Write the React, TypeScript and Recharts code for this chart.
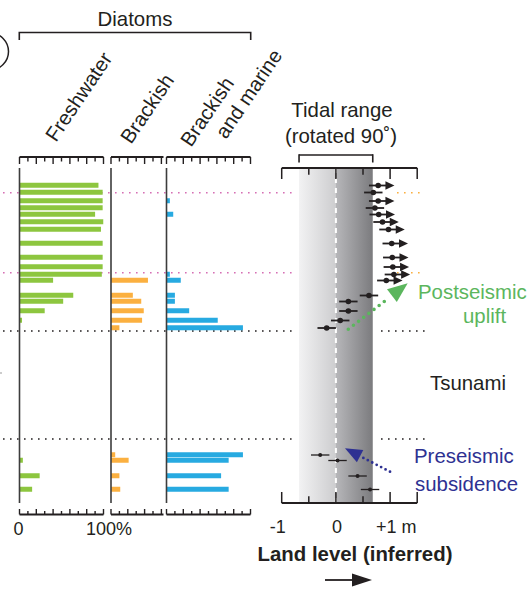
import React from 'react';
import {
  BarChart,
  Bar,
  ComposedChart,
  Scatter,
  ErrorBar,
  XAxis,
  YAxis,
  ReferenceLine,
  ReferenceArea,
} from 'recharts';

const W = 532;
const H = 589;
const FONT = '"Liberation Sans", Arial, Helvetica, sans-serif';
const FS = 20.4;
const INK = '#231f20';
const GREEN = '#8dc63f';
const ORANGE = '#fbb040';
const BLUE = '#27aae1';
const PINK = '#d66fb4';
const POST = '#5bb65d';
const PRE = '#2e3192';

// sample depth down the section (arbitrary units, top of core = 0)
const depths = [17.5, 24.5, 33, 40, 46.5, 54, 61.5, 75.5, 89.5, 99, 106.5, 112.5, 127.5, 133.5, 143, 152.5, 160, 287, 292.5, 308, 321.5];
// diatom assemblages, % of count
const freshwater = [94, 99, 99, 99, 90, 100, 97, 99, 99, 99, 98, 40, 64, 52, 30, 3, 0, 0, 4, 24, 15];
const brackish = [0, 0, 0, 0, 0, 0, 0, 0, 0, 0, 0, 44, 26, 36, 39, 37, 10, 5, 21, 10, 11];
const marine = [0, 0, 4, 0, 8, 0, 0, 0, 0, 0, 4, 17, 10, 10, 27, 61, 91, 91, 74, 65, 74];
// inferred land level (m) relative to mid tide
const landLevel = [0.78, 0.69, 0.78, 0.72, 0.79, 0.86, 0.97, 1.03, 1.04, 1.05, 1.07, 0.93, 0.61, 0.23, 0.23, 0.08, -0.17, -0.29, 0.03, 0.4, 0.63];
const minimumOnly = [true, false, true, false, true, true, true, true, true, true, true, true, false, false, false, false, false, false, false, false, false];
const landError = 0.17;
const tidalRange = [-0.68, 0.68];

const horizonDepths = [24.7, 104.7, 163, 271];
const horizonLeftColors = [PINK, PINK, INK, INK];
const horizonRightColors = [ORANGE, ORANGE, INK, INK];

const pctTicks = [0, 10, 20, 30, 40, 50, 60, 70, 80, 90, 100];
const brackishTicks = [0, 10, 20, 30, 40, 50, 60];
const landTicks = [-1, -0.5, 0, 0.5, 1, 1.5];

const samples = depths.map((depth, i) => ({
  depth,
  freshwater: freshwater[i],
  brackish: brackish[i],
  marine: marine[i],
}));

const landRows = depths.map((depth, i) => ({
  depth,
  level: landLevel[i],
  err: [landError, minimumOnly[i] ? 0.2 : landError],
  tip: landLevel[i] + 0.3,
  minimum: minimumOnly[i],
}));
const postRows = landRows.filter((r) => r.depth < 200);
const preRows = landRows.filter((r) => r.depth >= 200);
const arrowRows = landRows.filter((r) => r.minimum);
const horizonRows = horizonDepths.map((depth) => ({ depth, x: 0 }));

const layer: React.CSSProperties = { position: 'absolute', left: 0, top: 0 };

const PctTick = (props: any) => {
  const { x, y, payload, side, labels } = props;
  const v = payload.value;
  const long = v % 20 === 0;
  const top = side === 'top';
  const len = top ? (long ? 7 : 4.5) : long ? 5.5 : 3.5;
  return (
    <g>
      <line x1={x} x2={x} y1={y} y2={y + (top ? len : -len)} stroke={INK} strokeWidth={1.4} />
      {labels && v === 0 && (
        <text x={x - 1} y={y + 20} textAnchor="middle" fontSize={18} fill={INK} fontFamily={FONT}>
          0
        </text>
      )}
      {labels && v === 100 && (
        <text x={x + 5.5} y={y + 20} textAnchor="middle" fontSize={18} fill={INK} fontFamily={FONT}>
          100%
        </text>
      )}
    </g>
  );
};

const LandTick = (props: any) => {
  const { x, y, payload, side } = props;
  const v = payload.value;
  const long = v !== -0.5 && v !== 0.5;
  const top = side === 'top';
  const len = long ? 11 : 6.7;
  let label = null;
  if (!top) {
    const common = { y: y + 30, fontSize: 18, fill: INK, fontFamily: FONT };
    if (v === -1) label = <text x={x + 4} textAnchor="end" {...common}>-1</text>;
    if (v === 0) label = <text x={x + 1} textAnchor="middle" {...common}>0</text>;
    if (v === 1) label = <text x={x - 14} textAnchor="start" {...common}>+1 m</text>;
  }
  return (
    <g>
      <line x1={x} x2={x} y1={y} y2={y + (top ? len : -len)} stroke={INK} strokeWidth={1.5} />
      {label}
    </g>
  );
};

const axisCommon = {
  type: 'number' as const,
  allowDataOverflow: true,
  interval: 0,
  tickSize: 0,
  tickMargin: 0,
  tickLine: false,
  axisLine: { stroke: INK, strokeWidth: 1.8 },
};

const DiatomPanel = ({ dataKey, color, left, width, max, ticks, labels }: any) => (
  <div style={layer}>
    <BarChart
      width={W}
      height={H}
      layout="vertical"
      data={samples}
      margin={{ top: 147, bottom: 44.5, left, right: W - left - width }}
    >
      <XAxis
        {...axisCommon}
        xAxisId="top"
        orientation="top"
        domain={[0, max]}
        ticks={ticks}
        height={10}
        tick={<PctTick side="top" />}
      />
      <XAxis
        {...axisCommon}
        xAxisId="bottom"
        orientation="bottom"
        domain={[0, max]}
        ticks={ticks}
        height={30}
        tick={<PctTick side="bottom" labels={labels} />}
      />
      <YAxis type="number" dataKey="depth" domain={[-11, 346.5]} allowDataOverflow hide />
      <ReferenceLine
        xAxisId="top"
        segment={[{ x: 0, y: 0 }, { x: 0, y: 335 }]}
        stroke="#3d3d3d"
        strokeWidth={1.6}
      />
      <Bar xAxisId="top" dataKey={dataKey} fill={color} barSize={5} isAnimationActive={false} />
    </BarChart>
  </div>
);

const App = () => (
  <div style={{ ...layer, width: W, height: H, background: '#fff', fontFamily: FONT }}>
    {/* horizon lines across the section */}
    <div style={layer}>
      <ComposedChart width={W} height={H} data={horizonRows} margin={{ top: 168, bottom: 86, left: 0, right: 0 }}>
        <XAxis type="number" dataKey="x" domain={[0, W]} allowDataOverflow hide />
        <YAxis type="number" dataKey="depth" domain={[0, 335]} allowDataOverflow reversed hide />
        {horizonDepths.map((d, i) => (
          <ReferenceLine
            key={`l${i}`}
            segment={[{ x: 3, y: d }, { x: 296, y: d }]}
            stroke={horizonLeftColors[i]}
            strokeWidth={1.5}
            strokeDasharray="1.6 5.4"
          />
        ))}
        {horizonDepths.map((d, i) => (
          <ReferenceLine
            key={`r${i}`}
            segment={[{ x: i < 2 ? 397 : 381, y: d }, { x: 425, y: d }]}
            stroke={horizonRightColors[i]}
            strokeWidth={1.5}
            strokeDasharray="1.6 5.4"
          />
        ))}
      </ComposedChart>
    </div>

    <DiatomPanel dataKey="freshwater" color={GREEN} left={19.5} width={84} max={100} ticks={pctTicks} labels />
    <DiatomPanel dataKey="brackish" color={ORANGE} left={111} width={52.5} max={62.5} ticks={brackishTicks} />
    <DiatomPanel dataKey="marine" color={BLUE} left={166.5} width={84} max={100} ticks={pctTicks} />

    {/* land level */}
    <div style={layer}>
      <ComposedChart
        width={W}
        height={H}
        layout="vertical"
        data={landRows}
        margin={{ top: 158, bottom: 46, left: 281.7, right: W - 417.2 }}
      >
        <defs>
          <linearGradient id="tidal" x1="0" y1="0" x2="1" y2="0">
            <stop offset="0%" stopColor="#f2f2f3" />
            <stop offset="49.5%" stopColor="#cdcdcf" />
            <stop offset="50.5%" stopColor="#b6b6b9" />
            <stop offset="100%" stopColor="#7b7b7e" />
          </linearGradient>
        </defs>
        <XAxis
          {...axisCommon}
          xAxisId="top"
          orientation="top"
          domain={[-1, 1.5]}
          ticks={landTicks}
          height={10}
          tick={<LandTick side="top" />}
        />
        <XAxis
          {...axisCommon}
          xAxisId="bottom"
          orientation="bottom"
          domain={[-1, 1.5]}
          ticks={landTicks}
          height={40}
          tick={<LandTick side="bottom" />}
        />
        <YAxis type="number" dataKey="depth" domain={[0, 335]} allowDataOverflow hide />
        <ReferenceArea
          xAxisId="top"
          x1={tidalRange[0]}
          x2={tidalRange[1]}
          y1={0}
          y2={335}
          fill="url(#tidal)"
          fillOpacity={1}
          stroke="none"
        />
        <ReferenceLine xAxisId="top" x={0} stroke="#ffffff" strokeWidth={2} strokeDasharray="5 5" />
        {/* tidal range bracket */}
        <ReferenceLine
          xAxisId="top"
          ifOverflow="visible"
          segment={[{ x: tidalRange[0], y: -13 }, { x: tidalRange[1], y: -13 }]}
          stroke={INK}
          strokeWidth={1.6}
        />
        <ReferenceLine
          xAxisId="top"
          ifOverflow="visible"
          segment={[{ x: tidalRange[0], y: -13.8 }, { x: tidalRange[0], y: -5.5 }]}
          stroke={INK}
          strokeWidth={1.6}
        />
        <ReferenceLine
          xAxisId="top"
          ifOverflow="visible"
          segment={[{ x: tidalRange[1], y: -13.8 }, { x: tidalRange[1], y: -5.5 }]}
          stroke={INK}
          strokeWidth={1.6}
        />
        <Scatter
          xAxisId="top"
          data={postRows}
          dataKey="level"
          isAnimationActive={false}
          shape={(p: any) => <circle cx={p.cx} cy={p.cy} r={2.8} fill={INK} />}
        >
          <ErrorBar dataKey="err" direction="x" width={0} stroke={INK} strokeWidth={1.8} />
        </Scatter>
        <Scatter
          xAxisId="top"
          data={preRows}
          dataKey="level"
          isAnimationActive={false}
          shape={(p: any) => <circle cx={p.cx} cy={p.cy} r={2} fill={INK} />}
        >
          <ErrorBar dataKey="err" direction="x" width={0} stroke={INK} strokeWidth={1.3} />
        </Scatter>
        <Scatter
          xAxisId="top"
          data={arrowRows}
          dataKey="tip"
          isAnimationActive={false}
          shape={(p: any) => (
            <polygon
              points={`${p.cx},${p.cy} ${p.cx - 9},${p.cy - 4.2} ${p.cx - 9},${p.cy + 4.2}`}
              fill={INK}
            />
          )}
        />
      </ComposedChart>
    </div>

    {/* labels and annotations */}
    <svg width={W} height={H} style={{ ...layer, pointerEvents: 'none' }} fontFamily={FONT}>
      <circle cx={-10} cy={51.5} r={18.5} fill="none" stroke={INK} strokeWidth={1.5} />
      <line x1={0} x2={2} y1={373} y2={373} stroke="#999" strokeWidth={1} />

      <text x={135} y={26} textAnchor="middle" fontSize={FS} fill={INK}>Diatoms</text>
      <path d="M19.3,40 V32.5 H250.7 V40" fill="none" stroke={INK} strokeWidth={1.6} />

      <text transform="translate(56,143) rotate(-56)" fontSize={FS} fill={INK}>Freshwater</text>
      <text transform="translate(131,145) rotate(-56)" fontSize={FS} fill={INK}>Brackish</text>
      <text transform="translate(191,148) rotate(-56)" fontSize={FS} fill={INK}>Brackish</text>
      <text transform="translate(226,140) rotate(-56)" fontSize={FS} fill={INK}>and marine</text>

      <text x={342} y={117} textAnchor="middle" fontSize={FS} fill={INK}>Tidal range</text>
      <text x={341} y={143} textAnchor="middle" fontSize={FS} fill={INK}>(rotated 90˚)</text>

      <text x={468} y={390} textAnchor="middle" fontSize={FS} fill={INK}>Tsunami</text>

      <text x={418} y={299} fontSize={FS} fill={POST}>Postseismic</text>
      <text x={463} y={323} fontSize={FS} fill={POST}>uplift</text>
      <line x1={348.3} y1={329.3} x2={389} y2={297.8} stroke={POST} strokeWidth={3.6} strokeLinecap="round" strokeDasharray="0 6.5" />
      <polygon points="407.7,283.3 396.8,301.9 387,289.3" fill={POST} />

      <text x={414} y={463} fontSize={FS} fill={PRE}>Preseismic</text>
      <text x={415} y={491} fontSize={FS} fill={PRE}>subsidence</text>
      <line x1={390} y1={471.7} x2={362} y2={457.2} stroke={PRE} strokeWidth={2.8} strokeLinecap="round" strokeDasharray="0 5" />
      <polygon points="345,448.3 363.3,449.9 356.9,462.3" fill={PRE} />

      <text x={355} y={561} textAnchor="middle" fontSize={FS} fontWeight="bold" fill={INK}>Land level (inferred)</text>
      <line x1={325} y1={580} x2={356} y2={580} stroke={INK} strokeWidth={1.8} />
      <polygon points="372,580 352,573.5 352,586.5" fill={INK} />
    </svg>
  </div>
);

export default App;
